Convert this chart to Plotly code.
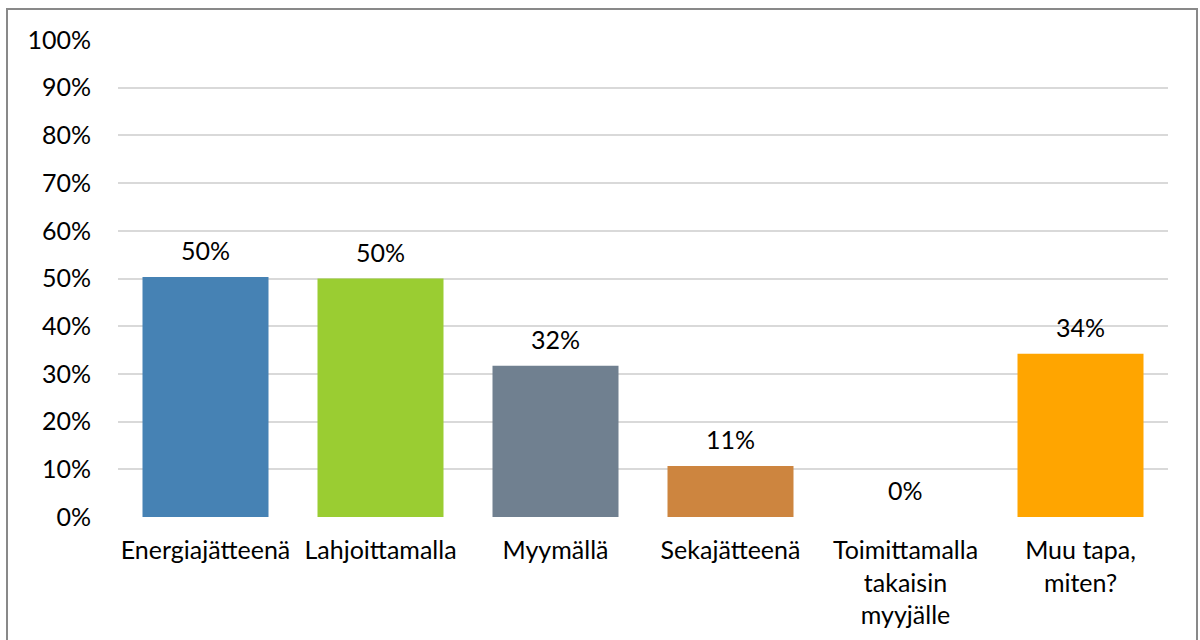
import plotly.graph_objects as go

categories = ["Energiajätteenä", "Lahjoittamalla", "Myymällä", "Sekajätteenä",
              "Toimittamalla<br>takaisin<br>myyjälle", "Muu tapa,<br>miten?"]
values = [50.3, 50.0, 31.7, 10.7, 0.0, 34.2]
labels = ["50%", "50%", "32%", "11%", "0%", "34%"]
colors = ["#4682B4", "#9ACD32", "#708090", "#CD853F", "#7F7F7F", "#FFA500"]
y_ticks = [0, 10, 20, 30, 40, 50, 60, 70, 80, 90, 100]
y_ticklabels = [f"{v}%" for v in y_ticks]

W, H = 1200, 640
L, R, T, B = 118, 32, 40, 123
pw, ph = W - L - R, H - T - B
FS = 25

fig = go.Figure(go.Bar(
    x=categories, y=values,
    marker=dict(color=colors, line=dict(width=0)),
    cliponaxis=False,
))

annotations = [dict(x=c, y=v, text=t, xref="x", yref="y", showarrow=False,
                    yanchor="bottom", yshift=10, font=dict(size=FS, color="#000000"))
               for c, v, t in zip(categories, values, labels)]

font = "Lato, 'Open Sans', sans-serif"
fig.update_layout(
    width=W, height=H,
    margin=dict(l=L, r=R, t=T, b=B),
    paper_bgcolor="white", plot_bgcolor="white",
    font=dict(family=font, size=FS, color="#000000"),
    bargap=0.28,
    showlegend=False,
    annotations=annotations,
    xaxis=dict(showgrid=False, showline=False, ticks="", ticklabelstandoff=16,
               tickfont=dict(size=FS)),
    yaxis=dict(range=[0, 100], tickvals=y_ticks, ticktext=y_ticklabels,
               showgrid=True, gridcolor="#D9D9D9", gridwidth=2,
               zeroline=False, showline=False, ticks="",
               ticklabelstandoff=26, tickfont=dict(size=FS)),
    shapes=[dict(type="rect", xref="paper", yref="paper",
                 x0=(7 - L) / pw, x1=(1197 - L) / pw,
                 y0=((H - B) - 660) / ph, y1=((H - B) - 9) / ph,
                 line=dict(color="#898989", width=2), layer="below")],
)

fig.write_html("out.html", config={"displayModeBar": False},
               post_script="document.body.style.margin='0px';document.body.style.overflow='hidden';")
